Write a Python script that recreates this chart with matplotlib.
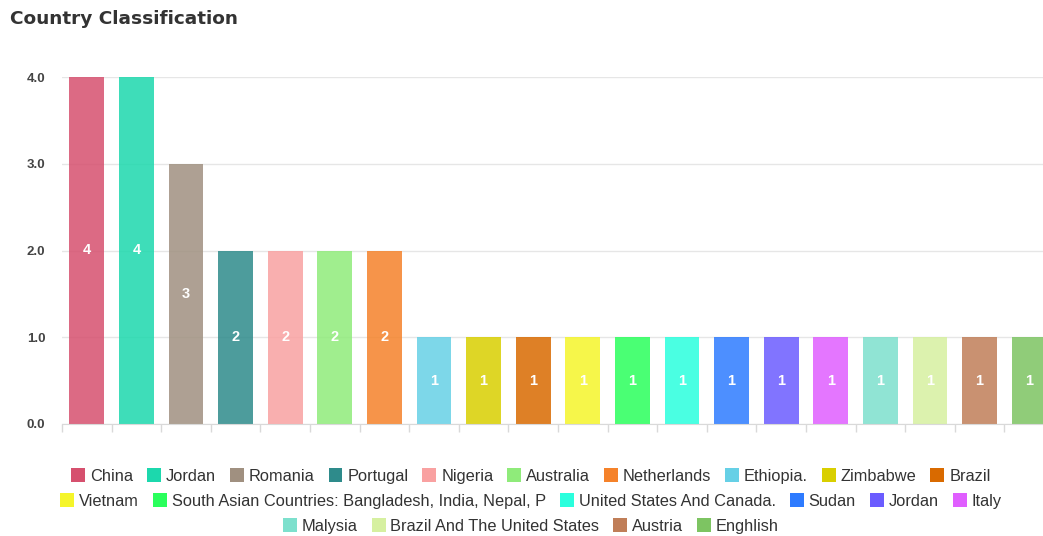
import matplotlib.pyplot as plt
from matplotlib.patches import Patch
import numpy as np

# data
countries = ['China', 'Jordan', 'Romania', 'Portugal', 'Nigeria', 'Australia', 'Netherlands',
             'Ethiopia.', 'Zimbabwe', 'Brazil', 'Vietnam',
             'South Asian Countries: Bangladesh, India, Nepal, P', 'United States And Canada.',
             'Sudan', 'Jordan', 'Italy', 'Malysia', 'Brazil And The United States', 'Austria', 'Enghlish']
counts = [4, 4, 3, 2, 2, 2, 2, 1, 1, 1, 1, 1, 1, 1, 1, 1, 1, 1, 1, 1]
colors = ['#d6506e', '#1cd8ad', '#a09080', '#2e8b8b', '#f9a1a1', '#8feb7a', '#f5822a',
          '#66d0e6', '#d9cf00', '#d96a00', '#f5f52a', '#2aff5c', '#2affdd',
          '#2e7bff', '#6b5cff', '#e05eff', '#7de0cd', '#d6f0a0', '#c07e58', '#7dc462']
legend_rows = [10, 6, 4]

plt.rcParams['font.family'] = ['Liberation Sans', 'DejaVu Sans']

fig = plt.figure(figsize=(10.43, 5.36), dpi=100)
ax = fig.add_axes([62 / 1043, 112 / 536, 992 / 1043, 347 / 536])

x = np.arange(len(counts))
ax.bar(x, counts, width=0.7, color=colors, alpha=0.85, zorder=2)
for xi, v in zip(x, counts):
    ax.text(xi, v / 2, str(v), ha='center', va='center', color='white',
            fontsize=10.5, fontweight='bold', zorder=3)

ax.set_xlim(-0.5, len(counts) - 0.5)
ax.set_ylim(0, 4)
ax.set_yticks([0, 1, 2, 3, 4])
ax.set_yticklabels(['0.0', '1.0', '2.0', '3.0', '4.0'], fontsize=9.5, color='#444444', fontweight='bold')
ax.tick_params(axis='y', length=0, pad=12)
ax.grid(axis='y', color='#e6e6e6', linewidth=1, zorder=0)
ax.set_xticks([])
ax.set_xticks(np.arange(-0.5, len(counts), 1), minor=True)
ax.tick_params(axis='x', which='minor', length=6, color='#d9d9d9', width=1)
for s in ['left', 'right', 'top']:
    ax.spines[s].set_visible(False)
ax.spines['bottom'].set_color('#d9d9d9')

fig.text(10 / 1043, 1 - 19 / 536, 'Country Classification', fontsize=13.3, fontweight='heavy',
         color='#333333', va='center', ha='left', family=['DejaVu Sans'])

# legend rows, centered like a wrapping legend
start = 0
row_y = [476, 501, 526]
for n, yy in zip(legend_rows, row_y):
    handles = [Patch(facecolor=c, edgecolor='none', label=l)
               for c, l in zip(colors[start:start + n], countries[start:start + n])]
    fig.legend(handles=handles, loc='center', bbox_to_anchor=(531 / 1043, 1 - yy / 536),
               ncol=n, frameon=False, fontsize=11.8, handlelength=0.85, handleheight=0.95,
               handletextpad=0.3, columnspacing=0.85, borderpad=0, labelcolor='#333333')
    start += n

fig.savefig('out.png', dpi=100)
